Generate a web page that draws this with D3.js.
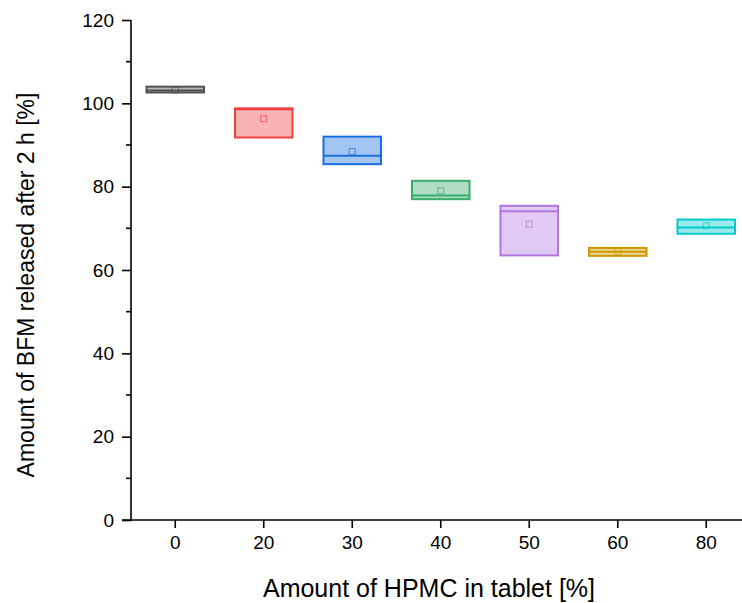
<!DOCTYPE html>
<html>
<head>
    <meta charset="utf-8">
    <script src="https://cdn.jsdelivr.net/npm/d3@7"></script>
    <style>
        body { margin: 0; background: #fff; }
        text { font-family: "Liberation Sans", Arial, sans-serif; fill: #000; }
    </style>
</head>
<body>
<div id="graph"></div>
<script>

// data
const categories = ["0", "20", "30", "40", "50", "60", "80"];
const boxTop    = [104.0, 98.8, 92.0, 81.4, 75.4, 65.3, 72.1];
const boxBottom = [102.6, 91.8, 85.4, 77.0, 63.5, 63.4, 68.7];
const medians   = [103.1, 98.6, 87.4, 77.9, 74.1, 64.4, 70.2];
const means     = [103.2, 96.3, 88.4, 79.0, 71.0, 64.4, 70.6];
const colors    = ["#515151", "#F14040", "#1A6FDF", "#37AD6B", "#B177DE", "#CC9900", "#00CBCC"];
const yTicks = [0, 20, 40, 60, 80, 100, 120];

const W = 742, H = 603;
const margin = {top: 20, left: 131, bottom: 83};

const svg = d3.select("#graph")
  .append("svg")
    .attr("width", W)
    .attr("height", H);

const x = d3.scaleBand()
    .domain(categories)
    .range([margin.left, margin.left + 7 * 88.5])
    .padding(0);

const y = d3.scaleLinear()
    .domain([0, 120])
    .range([H - margin.bottom, margin.top]);

const boxW = x.bandwidth() * 0.65;

// boxes
const g = svg.append("g");
categories.forEach((c, i) => {
    const cx = x(c) + x.bandwidth() / 2;
    g.append("rect")
        .attr("x", cx - boxW / 2)
        .attr("y", y(boxTop[i]))
        .attr("width", boxW)
        .attr("height", y(boxBottom[i]) - y(boxTop[i]))
        .attr("fill", colors[i])
        .attr("fill-opacity", 0.4)
        .attr("stroke", colors[i])
        .attr("stroke-width", 2);
    // median
    g.append("line")
        .attr("x1", cx - boxW / 2)
        .attr("x2", cx + boxW / 2)
        .attr("y1", y(medians[i]))
        .attr("y2", y(medians[i]))
        .attr("stroke", colors[i])
        .attr("stroke-width", 2);
    // mean marker
    g.append("rect")
        .attr("x", cx - 3)
        .attr("y", y(means[i]) - 3)
        .attr("width", 6)
        .attr("height", 6)
        .attr("fill", "none")
        .attr("stroke", colors[i])
        .attr("stroke-opacity", 0.7)
        .attr("stroke-width", 1);
});

// y axis
const yAxis = svg.append("g")
    .attr("transform", `translate(${margin.left},0)`)
    .call(d3.axisLeft(y).tickValues(yTicks).tickSize(9).tickPadding(8));
yAxis.select(".domain").attr("d", `M0,${y(120)}V${y(0) + 1}`).attr("stroke-width", 1.6);
yAxis.selectAll(".tick line").attr("stroke-width", 1.6);
yAxis.selectAll(".tick text").style("font-size", "19px");

// y minor ticks
svg.append("g")
    .selectAll("line")
    .data(d3.range(10, 120, 20))
    .join("line")
      .attr("x1", margin.left - 5)
      .attr("x2", margin.left)
      .attr("y1", d => y(d))
      .attr("y2", d => y(d))
      .attr("stroke", "#000")
      .attr("stroke-width", 1.6);

// x axis
const xAxis = svg.append("g")
    .attr("transform", `translate(0,${y(0)})`)
    .call(d3.axisBottom(x).tickSize(8).tickPadding(8));
xAxis.select(".domain").attr("d", `M${margin.left - 9},0H${W}`).attr("stroke-width", 1.6);
xAxis.selectAll(".tick line").attr("stroke-width", 1.6);
xAxis.selectAll(".tick text").style("font-size", "19px");

// axis titles
svg.append("text")
    .attr("x", 429)
    .attr("y", 597)
    .attr("text-anchor", "middle")
    .style("font-size", "25px")
    .text("Amount of HPMC in tablet [%]");

svg.append("text")
    .attr("transform", `translate(34,${(y(0) + y(120)) / 2 + 15}) rotate(-90)`)
    .attr("text-anchor", "middle")
    .style("font-size", "23px")
    .text("Amount of BFM released after 2 h [%]");

</script>
</body>
</html>
